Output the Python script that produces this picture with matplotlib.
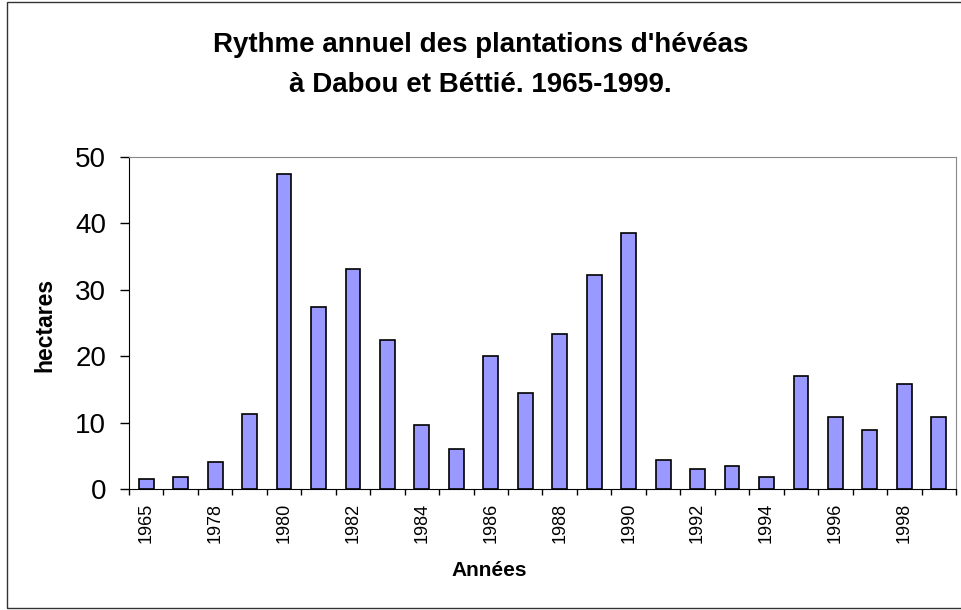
import numpy as np
import matplotlib
matplotlib.use("Agg")
from matplotlib import pyplot as plt
from matplotlib.patches import Rectangle

plt.rcParams['font.family'] = ['Liberation Sans', 'DejaVu Sans']

# years (2nd one is hidden on the axis in the original, guessed)
years = ["1965", "1975", "1978", "1979", "1980", "1981", "1982", "1983",
         "1984", "1985", "1986", "1987", "1988", "1989", "1990", "1991",
         "1992", "1993", "1994", "1995", "1996", "1997", "1998", "1999"]
hectares = [1.5, 1.85, 4.1, 11.3, 47.5, 27.4, 33.1, 22.5,
            9.7, 6.0, 20.1, 14.4, 23.4, 32.3, 38.5, 4.3,
            2.95, 3.5, 1.85, 17.0, 10.9, 8.9, 15.75, 10.9]
yticks = [0, 10, 20, 30, 40, 50]

fig = plt.figure(figsize=(9.61, 6.10), dpi=100)
ax = fig.add_axes([129/961, 1 - 489/610, (956 - 129)/961, (489 - 157)/610])

x = np.arange(len(years))
ax.bar(x, hectares, width=0.43, color="#9999FF", edgecolor="black", linewidth=1.2, zorder=3)

ax.set_xlim(-0.5, len(years) - 0.5)
ax.set_ylim(0, 50)
ax.set_yticks(yticks)
ax.tick_params(axis="y", direction="out", length=6.5, width=1, labelsize=20, pad=10)

# labels every other year, tick marks between categories
ax.set_xticks(x[::2])
ax.set_xticklabels(years[::2], rotation=90, fontsize=13)
ax.tick_params(axis="x", which="major", length=0, pad=10)
ax.set_xticks(np.arange(-0.5, len(years)), minor=True)
ax.tick_params(axis="x", which="minor", direction="out", length=4, width=1)

for s in ["top", "right"]:
    ax.spines[s].set_color("#888888")
for s in ["left", "bottom"]:
    ax.spines[s].set_color("black")

fig.text(45/961, 1 - 325/610, "hectares", rotation=90, ha="center", va="center",
         fontsize=16.5, fontweight="bold")
fig.text(489/961, 1 - 570/610, "Années", ha="center", va="center",
         fontsize=15, fontweight="bold")

fig.text(0.5, 1 - 45/610, "Rythme annuel des plantations d'hévéas", ha="center", va="center",
         fontsize=20, fontweight="bold")
fig.text(0.5, 1 - 85/610, "à Dabou et Béttié. 1965-1999.", ha="center", va="center",
         fontsize=20, fontweight="bold")

# outer chart frame
fig.patches.append(Rectangle((7/961, 2/610), 1.0, 1 - 4/610, transform=fig.transFigure,
                             fill=False, edgecolor="#333333", linewidth=1))

fig.savefig("out.png", dpi=100)
